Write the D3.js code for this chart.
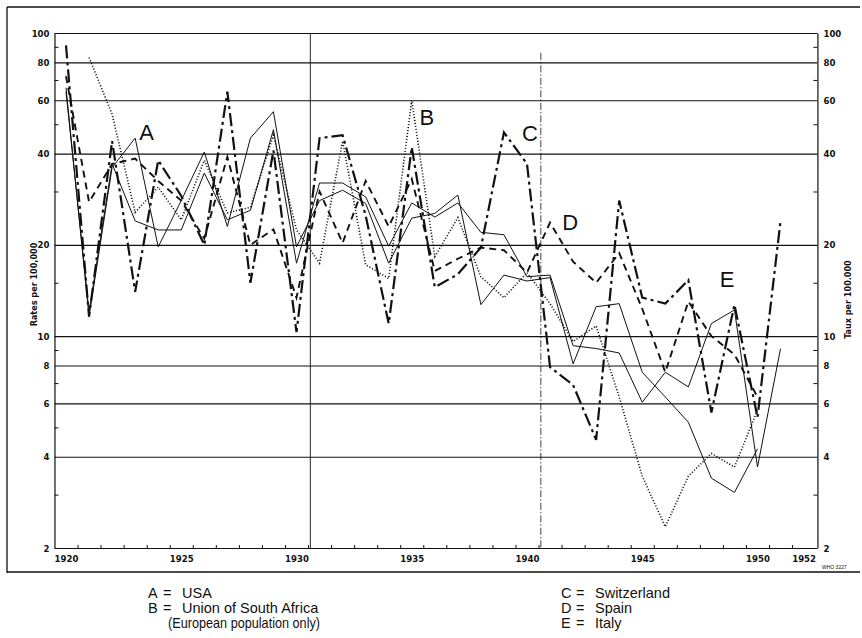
<!DOCTYPE html>
<html>
<head>
<meta charset="utf-8">
<script src="https://cdn.jsdelivr.net/npm/d3@7"></script>
<style>
  body { margin: 0; background: #fff; }
  svg { display: block; }
  .axis text { font-family: "Liberation Sans Narrow", "DejaVu Sans Condensed", "Liberation Sans", sans-serif; font-weight: bold; font-size: 9.5px; fill: #111; }
  .axis path, .axis line { stroke: #111; }
</style>
</head>
<body>
<svg id="chart" width="862" height="638"></svg>
<script>
// Influenza death rates per 100,000, 1920-1951 (null = no figure)
const years = d3.range(1920, 1952);

const usa =          [66, 11.6, 36, 45, 19.7, 28, 40.5, 23, 45, 55, 19.7, 28, 30.3, 27.4, 17.4, 24.5, 25.4, 29.2, 12.7, 15.9, 15.2, 15.6, 8.1, 12.5, 12.8, 7.6, 6.3, 5.2, 3.4, 3.05, 4.25, null];
const southAfrica =  [null, 83, 54, 25.6, 31, 24.2, 38, 25.5, 26.6, 46, 22.4, 17.4, 44, 17.2, 15.5, 60, 18.3, 24.6, 15.7, 13.4, 16.2, 12.8, 9.6, 10.8, 6.3, 3.45, 2.35, 3.45, 4.1, 3.7, 5.7, null];
const switzerland =  [91, 11.6, 44, 14, 38, 29, 20, 64, 15, 41, 10.3, 45, 46, 25, 11, 42, 14.5, 16, 19.6, 47, 37, 7.9, 6.9, 4.55, 28, 13.4, 12.8, 15.3, 5.6, 12.7, 5.4, 24];
const spain =        [72, 27.7, 37, 38.5, 32.5, 28, 21, 39, 20, 22.5, 13.4, 30, 20.3, 32.5, 23, 33, 16.4, 18, 19.6, 19.2, 16.2, 23.7, 17.6, 15, 18.8, 12.3, 7.6, 13, 10, 8.7, 6.3, null];
const italy =        [64, 12, 37, 24, 22.4, 22.4, 34.5, 24.2, 26, 48, 17.4, 32, 32, 28.8, 19.8, 27.5, 24.7, 27.5, 22, 21.6, 15.7, 15.9, 9.3, 9.1, 8.8, 6.05, 7.6, 6.8, 11, 12.2, 3.7, 9.1];

const majorTicks = [100, 80, 60, 40, 20, 10, 8, 6, 4, 2];
const minorTicks = [90, 70, 50, 30, 15, 9, 7, 5, 3];
const yearLabels = [1920, 1925, 1930, 1935, 1940, 1945, 1950, 1952];
const halfYearTicks = d3.range(1920.5, 1952, 1);

const legendLeft = [["A", "USA"], ["B", "Union of South Africa"], ["", "(European population only)"]];
const legendRight = [["C", "Switzerland"], ["D", "Spain"], ["E", "Italy"]];

const series = [
  { key: "A", values: usa,         width: 1.0, dash: null,         label: [1923.5, 47] },
  { key: "E", values: italy,       width: 1.0, dash: null,         label: [1948.68, 15.4] },
  { key: "B", values: southAfrica, width: 1.6, dash: "1.1,1.9",    label: [1935.66, 52.8] },
  { key: "D", values: spain,       width: 1.9, dash: "7,5",        label: [1941.87, 23.8] },
  { key: "C", values: switzerland, width: 2.2, dash: "13,4,3,4",   label: [1940.13, 46.8] }
];

const svg = d3.select("#chart");
const ink = "#111";

const x = d3.scaleLinear().domain([1920, 1952]).range([66, 803.6]);
const y = d3.scaleLog().domain([2, 100]).range([548, 33]);

const xL = x(1919.5), xR = x(1952.6);

// outer frame
const frame = svg.append("g").attr("stroke", ink).attr("stroke-width", 1.3).attr("fill", "none");
frame.append("path").attr("d", "M7,7 L860,7 M7,7 L7,573 M7,572 L860,572");

// horizontal grid at the major values
const grid = svg.append("g").attr("class", "axis")
  .attr("transform", `translate(${xL},0)`)
  .call(d3.axisRight(y).tickValues(majorTicks).tickSize(xR - xL).tickFormat(""));
grid.select(".domain").remove();
grid.selectAll("line").attr("stroke-width", 1.1);

// left axis
const left = svg.append("g").attr("class", "axis").attr("transform", `translate(${xL},0)`)
  .call(d3.axisLeft(y).tickValues(majorTicks).tickSize(0).tickPadding(5).tickFormat(d3.format("d")));
left.select(".domain").attr("stroke-width", 1.2);
svg.append("g").attr("class", "axis").attr("transform", `translate(${xL},0)`)
  .call(d3.axisRight(y).tickValues(minorTicks).tickSize(4).tickFormat(""))
  .select(".domain").remove();

// right axis
const right = svg.append("g").attr("class", "axis").attr("transform", `translate(${xR},0)`)
  .call(d3.axisRight(y).tickValues(majorTicks).tickSize(0).tickPadding(6).tickFormat(d3.format("d")));
right.select(".domain").attr("stroke-width", 1.2);
svg.append("g").attr("class", "axis").attr("transform", `translate(${xR},0)`)
  .call(d3.axisLeft(y).tickValues(minorTicks).tickSize(4).tickFormat(""))
  .select(".domain").remove();

// bottom axis: year labels and half-year ticks
const bottom = svg.append("g").attr("class", "axis").attr("transform", `translate(0,${y(2)})`)
  .call(d3.axisBottom(x).tickValues(yearLabels).tickSize(0).tickPadding(7).tickFormat(d3.format("d")));
bottom.select(".domain").remove();
svg.append("g").attr("class", "axis").attr("transform", `translate(0,${y(2)})`)
  .call(d3.axisTop(x).tickValues(halfYearTicks).tickSize(3).tickFormat(""))
  .select(".domain").remove();

// reference verticals
svg.append("line").attr("x1", x(1930.6)).attr("x2", x(1930.6)).attr("y1", y(100)).attr("y2", y(2))
  .attr("stroke", ink).attr("stroke-width", 0.9);
svg.append("line").attr("x1", x(1940.6)).attr("x2", x(1940.6)).attr("y1", y(86)).attr("y2", y(2))
  .attr("stroke", ink).attr("stroke-width", 0.8).attr("stroke-dasharray", "7,2,1.5,2");

// axis titles
svg.append("text").attr("transform", `translate(37,${y(14.8)}) rotate(-90)`)
  .attr("text-anchor", "middle").attr("font-family", "Liberation Sans Narrow, DejaVu Sans Condensed, sans-serif")
  .attr("font-weight", "bold").attr("font-size", 9).attr("fill", ink).text("Rates per 100,000");
svg.append("text").attr("transform", `translate(851,${y(13.2)}) rotate(-90)`)
  .attr("text-anchor", "middle").attr("font-family", "Liberation Sans Narrow, DejaVu Sans Condensed, sans-serif")
  .attr("font-weight", "bold").attr("font-size", 9).attr("fill", ink).text("Taux per 100.000");

// series lines
const line = d3.line()
  .defined(d => d.v != null)
  .x(d => x(d.year))
  .y(d => y(d.v));

const lines = svg.append("g").attr("fill", "none").attr("stroke", ink)
  .attr("stroke-linejoin", "miter").attr("stroke-linecap", "butt");
series.forEach(s => {
  const pts = years.map((yr, i) => ({ year: yr, v: s.values[i] }));
  const p = lines.append("path").attr("d", line(pts)).attr("stroke-width", s.width);
  if (s.dash) p.attr("stroke-dasharray", s.dash);
});

// series letters
svg.append("g").attr("font-family", "Liberation Sans, Arial, sans-serif").attr("font-size", 22)
  .attr("fill", ink).attr("text-anchor", "middle")
  .selectAll("text").data(series).join("text")
  .attr("x", d => x(d.label[0])).attr("y", d => y(d.label[1]) + 8)
  .text(d => d.key);

// legend: one text per row, letter / "=" / name placed as tspans
function legendBlock(items, x0) {
  const g = svg.append("g").attr("font-family", "Liberation Sans, Arial, sans-serif")
    .attr("font-size", 14.5).attr("fill", ink);
  items.forEach((it, i) => {
    const t = g.append("text").attr("y", 598 + i * 15);
    if (it[0]) {
      t.append("tspan").attr("x", x0).text(it[0]);
      t.append("tspan").attr("x", x0 + 15).text("=");
      t.append("tspan").attr("x", x0 + 34).text(it[1]);
    } else {
      t.attr("x", x0 + 20).attr("textLength", 152).attr("lengthAdjust", "spacingAndGlyphs").text(it[1]);
    }
  });
}
legendBlock(legendLeft, 148);
legendBlock(legendRight, 561);

// plate number
svg.append("text").attr("x", 822).attr("y", 569).attr("font-family", "Liberation Sans Narrow, sans-serif")
  .attr("font-size", 5).attr("fill", ink).text("WHO 3227");
</script>
</body>
</html>
